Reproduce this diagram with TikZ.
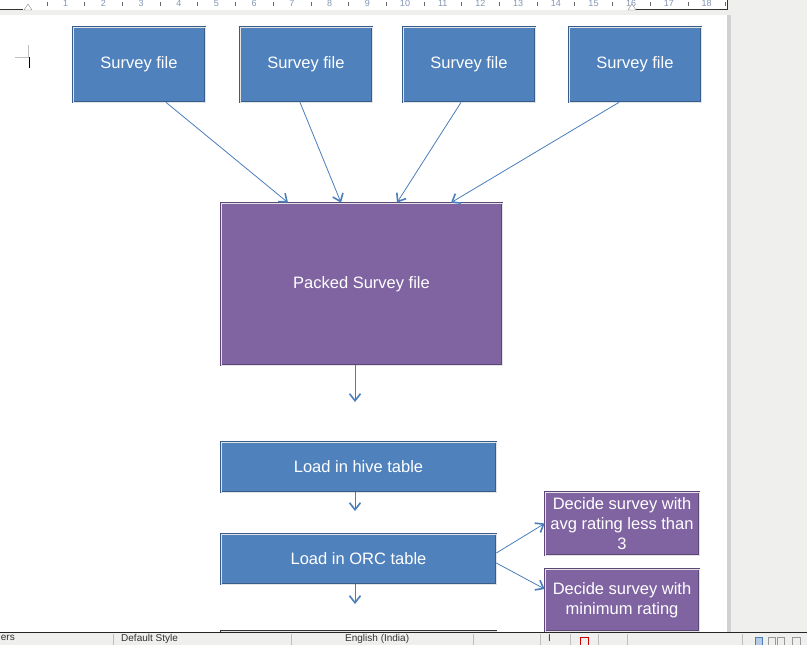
\documentclass[tikz,border=0pt]{standalone}
\usepackage{fontspec}
\setmainfont{Liberation Sans}
\usepackage{tikz}
\usetikzlibrary{arrows.meta}
\definecolor{BoxBlue}{RGB}{79, 129, 189}
\definecolor{EdgeBlue}{RGB}{56, 93, 138}
\definecolor{BoxPurple}{RGB}{128, 100, 162}
\definecolor{EdgePurple}{RGB}{92, 71, 118}
\definecolor{Flow}{RGB}{74, 126, 187}
\definecolor{Chrome}{RGB}{239, 239, 237}
\definecolor{RulerNum}{RGB}{130, 150, 180}

\begin{document}
\begin{tikzpicture}[x=1pt, y=-1pt,
    bluebox/.style={draw=EdgeBlue, line width=0.7pt, double=white!78!gray, double distance=0.9pt,
        fill=BoxBlue, text=white, align=center, inner sep=0pt,
        font=\fontsize{16.5}{20}\selectfont},
    purplebox/.style={bluebox, draw=EdgePurple, fill=BoxPurple},
    flow/.style={draw=Flow, line width=0.8pt,
        -{Straight Barb[length=7pt, width=11pt, line width=1.6pt]}},
    rulernum/.style={text=RulerNum, font=\fontsize{9}{9}\selectfont, inner sep=0pt},
    statustext/.style={text=black!80, font=\fontsize{10}{11}\selectfont, inner sep=0pt, anchor=north west}]
    %%Background
    \useasboundingbox (0,0) rectangle (807,645);
    \fill[Chrome] (0,0) rectangle (807,645);
    \fill[white] (0,15) rectangle (727,632);
    \fill[black!18] (727,15) rectangle (731,632);

    %% Ruler
    \fill[white] (0,0) rectangle (727,10);
    \draw[black!80, line width=0.8pt] (0,9.5) to (23,9.5) (634,9.5) to (727,9.5) to (727,0);
    \foreach \k in {1,...,18}
        \node[rulernum] (num\k) at ({28+37.7*\k},3.5) {\k};
    \foreach \k in {0,...,18}
        \draw[black!60] ({28+37.7*\k+18.85},2) to ({28+37.7*\k+18.85},6);
    \draw[black!50, fill=white] (24,10) to (28,4) to (32,10) -- cycle
    (628,10) to (632,4) to (636,10) -- cycle;

    %% Crop mark and cursor
    \draw[black!25] (15,57) to (28,57) to (28,45);
    \draw[black, line width=1.5pt] (29.5,57) to (29.5,68);

    %% Boxes
    \node[bluebox, minimum width=132pt, minimum height=75pt] (survey1) at (139,64.5) {Survey file};
    \node[bluebox, minimum width=132pt, minimum height=75pt] (survey2) at (306,64.5) {Survey file};
    \node[bluebox, minimum width=132pt, minimum height=75pt] (survey3) at (469,64.5) {Survey file};
    \node[bluebox, minimum width=132pt, minimum height=75pt] (survey4) at (635,64.5) {Survey file};

    \node[purplebox, minimum width=281pt, minimum height=162pt] (packed) at (361.5,284) {Packed Survey file};

    \node[bluebox, minimum width=275pt, minimum height=50pt] (hive) at (358.5,467) {Load in hive table};
    \node[bluebox, minimum width=275pt, minimum height=50pt] (orc) at (358.5,559) {Load in ORC table};
    \node[bluebox, draw=black!80, minimum width=275pt, minimum height=50pt] (nextstep) at (358.5,656) {};

    \node[purplebox, minimum width=154pt, minimum height=63pt] (decideavg) at (622,523.5)
        {Decide survey with\\avg rating less than\\3};
    \node[purplebox, minimum width=154pt, minimum height=62pt] (decidemin) at (622,600)
        {Decide survey with\\minimum rating};

    %% Arrows
    \draw[flow] ([xshift=27pt]survey1.south) to ([xshift=-73.5pt]packed.north);
    \draw[flow] ([xshift=-6pt]survey2.south) to ([xshift=-20.5pt]packed.north);
    \draw[flow] ([xshift=-8pt]survey3.south) to ([xshift=35.5pt]packed.north);
    \draw[flow] ([xshift=-16pt]survey4.south) to ([xshift=89.5pt]packed.north);

    \coordinate (packedout) at (355,402);
    \coordinate (hiveout) at (355,511);
    \coordinate (orcout) at (355,604);
    \draw[flow] ([xshift=-6.5pt]packed.south) to (packedout);
    \draw[flow] ([xshift=-3.5pt]hive.south) to (hiveout);
    \draw[flow] ([xshift=-3.5pt]orc.south) to (orcout);

    \draw[flow] ([yshift=6pt]orc.east) to (decideavg.west);
    \draw[flow] ([yshift=-4pt]orc.east) to ([yshift=11pt]decidemin.west);

    %% Status bar
    \fill[Chrome] (0,632) rectangle (807,645);
    \draw[black!85, line width=0.8pt] (0,632) to (807,632);
    \foreach \x in {113,291,473,540,570,598,627,742}
        \draw[black!25] (\x,634) to (\x,645);
    \node[statustext, anchor=north east] (words) at (15,634.5) {ers};
    \node[statustext] (pagestyle) at (121,634.5) {Default Style};
    \node[statustext] (language) at (345,634.5) {English (India)};
    \node[statustext] (insmode) at (548,634.5) {I};
    \draw[red!80!black, line width=0.8pt] (580,637) rectangle (588,645);
    \draw[Flow, fill=Flow!40] (755,637) rectangle (762,645);
    \draw[black!40] (768,637) rectangle (775,645) (777,637) rectangle (784,645);
    \draw[black!40] (792,637) rectangle (800,645);
\end{tikzpicture}
\end{document}
